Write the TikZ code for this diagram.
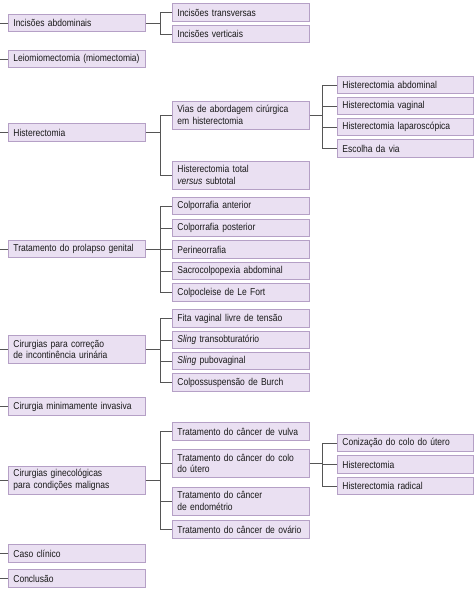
\documentclass[tikz,border=0pt]{standalone}
\usepackage{fontspec}
\setmainfont[FakeStretch=0.85]{Liberation Sans}
\definecolor{boxfill}{HTML}{EAE0F2}
\definecolor{boxline}{HTML}{B5A0C6}
\definecolor{conn}{HTML}{555555}
\begin{document}
\begin{tikzpicture}[x=1pt,y=1pt,
  box/.style={draw=boxline,fill=boxfill,line width=0.8pt,anchor=west,
    text width=127pt,inner xsep=5pt,inner ysep=0pt,align=left,
    font=\fontsize{10pt}{11.8pt}\selectfont,text=black!90},
  one/.style={box,minimum height=17.5pt},
  two/.style={box,minimum height=28pt},
  l3/.style={text width=126pt},
  wire/.style={draw=conn,line width=0.8pt}]
\useasboundingbox (0,0) rectangle (474,-591);
\coordinate (L) at (0,0);
% level 1
\node[one] (inc) at (8,-23) {Incisões abdominais};
\node[one] (leio) at (8,-59) {Leiomiomectomia (miomectomia)};
\node[one] (hist) at (8,-132.5) {Histerectomia};
\node[one] (prol) at (8,-249) {Tratamento do prolapso genital};
\node[two] (inco) at (8,-349.5) {Cirurgias para correção\\de incontinência urinária};
\node[one] (mini) at (8,-406.5) {Cirurgia minimamente invasiva};
\node[two] (malig) at (8,-480) {Cirurgias ginecológicas\\para condições malignas};
\node[one] (caso) at (8,-553.5) {Caso clínico};
\node[one] (conc) at (8,-578.5) {Conclusão};
% level 2
\node[one] (trans) at (172,-12.5) {Incisões transversas};
\node[one] (vert) at (172,-34) {Incisões verticais};
\node[two] (vias) at (172,-115) {Vias de abordagem cirúrgica\\em histerectomia};
\node[two] (total) at (172,-175) {Histerectomia total\\\textit{versus} subtotal};
\node[one] (cant) at (172,-206) {Colporrafia anterior};
\node[one] (cpost) at (172,-228) {Colporrafia posterior};
\node[one] (peri) at (172,-249.5) {Perineorrafia};
\node[one] (sacro) at (172,-271) {Sacrocolpopexia abdominal};
\node[one] (lefort) at (172,-292.5) {Colpocleise de Le Fort};
\node[one] (fita) at (172,-318.5) {Fita vaginal livre de tensão};
\node[one] (trob) at (172,-340) {\textit{Sling} transobturatório};
\node[one] (pubo) at (172,-361) {\textit{Sling} pubovaginal};
\node[one] (burch) at (172,-382.5) {Colpossuspensão de Burch};
\node[one] (vulva) at (172,-431.5) {Tratamento do câncer de vulva};
\node[two] (colo) at (172,-463.5) {Tratamento do câncer do colo\\do útero};
\node[two] (endo) at (172,-501) {Tratamento do câncer\\de endométrio};
\node[one] (ovar) at (172,-529.5) {Tratamento do câncer de ovário};
% level 3
\node[one,l3] (habd) at (337,-85) {Histerectomia abdominal};
\node[one,l3] (hvag) at (337,-106) {Histerectomia vaginal};
\node[one,l3] (hlap) at (337,-127) {Histerectomia laparoscópica};
\node[one,l3] (esc) at (337,-148.5) {Escolha da via};
\node[one,l3] (coniz) at (337,-443) {Conização do colo do útero};
\node[one,l3] (hist2) at (337,-464.5) {Histerectomia};
\node[one,l3] (hrad) at (337,-486) {Histerectomia radical};
% stubs on the left
\foreach \n in {inc,leio,hist,prol,inco,mini,malig,caso,conc}
  \draw[wire] (\n.west) -- (\n.west -| L);
% level 1 -> level 2
\foreach \p/\cs in {inc/{trans,vert},hist/{vias,total},prol/{cant,cpost,peri,sacro,lefort},
  inco/{fita,trob,pubo,burch},malig/{vulva,colo,endo,ovar}}
  \foreach \c in \cs
    \draw[wire] (\p.east) -- ++(15,0) |- (\c.west);
% level 2 -> level 3
\foreach \p/\cs in {vias/{habd,hvag,hlap,esc},colo/{coniz,hist2,hrad}}
  \foreach \c in \cs
    \draw[wire] (\p.east) -- ++(13,0) |- (\c.west);
\end{tikzpicture}
\end{document}
